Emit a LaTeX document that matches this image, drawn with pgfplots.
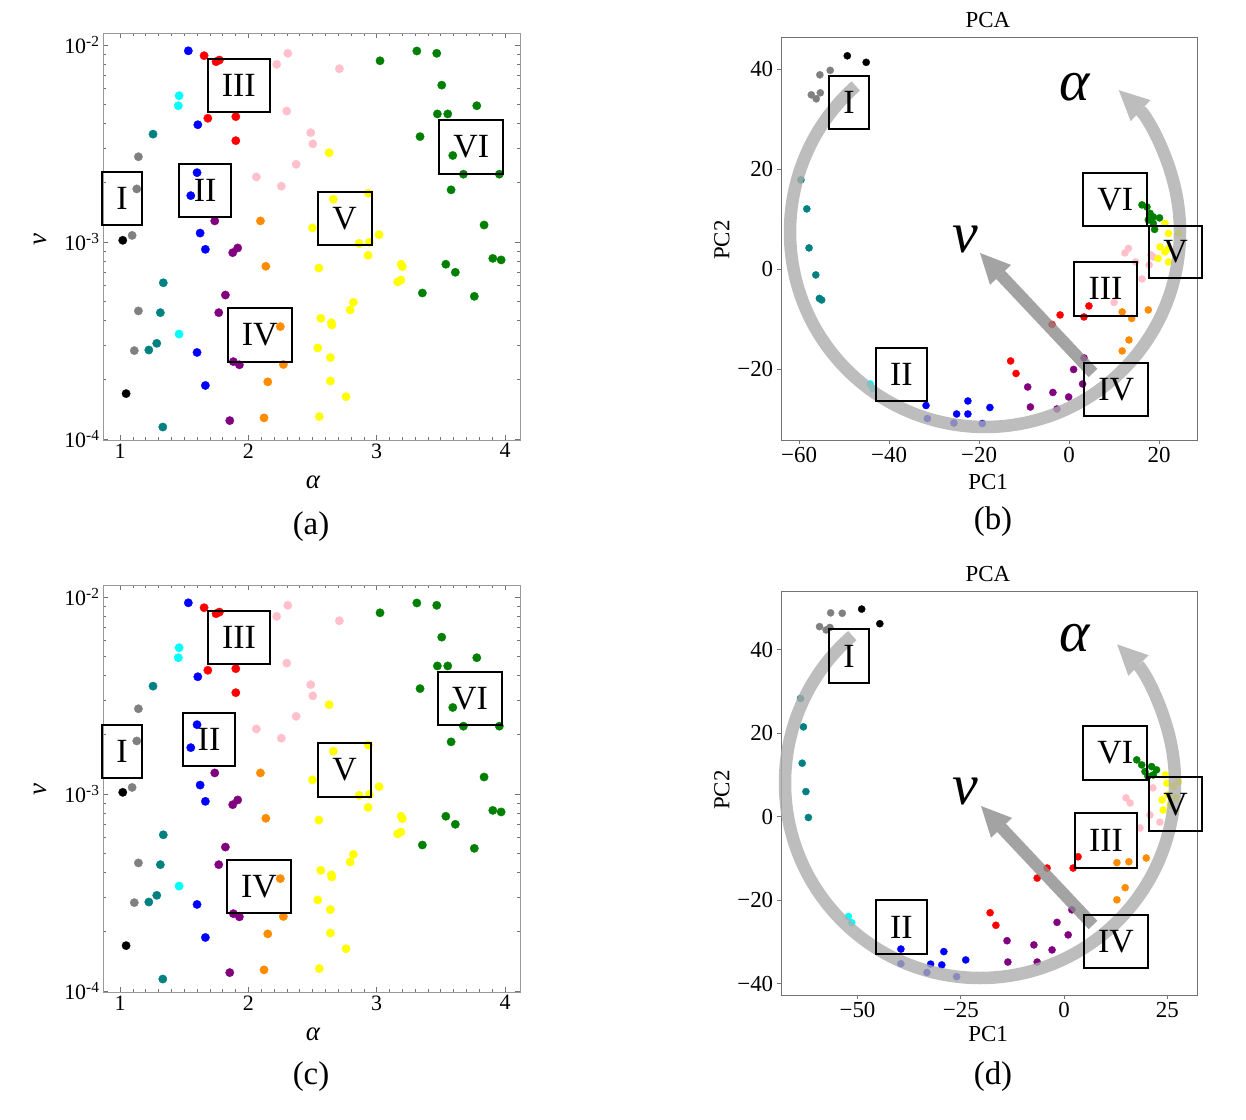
\documentclass[border=0pt]{standalone}
\usepackage{fontspec}
\setmainfont{Liberation Serif}
\usepackage{pgfplots}
\usepackage{pgfplotstable}
\pgfplotsset{compat=1.18}
\usetikzlibrary{arrows.meta}

\definecolor{cteal}{RGB}{0,128,128}
\definecolor{cgray}{RGB}{128,128,128}
\definecolor{cpink}{RGB}{255,192,203}
\definecolor{corange}{RGB}{255,140,0}
\definecolor{cpurple}{RGB}{128,0,128}
\definecolor{cgreen}{RGB}{0,128,0}
\definecolor{cyellow}{RGB}{255,255,0}
\definecolor{ccyan}{RGB}{0,255,255}
\definecolor{cblue}{RGB}{0,0,255}
\definecolor{cred}{RGB}{255,0,0}

% ---------- panels (a) and (c): alpha vs v ----------
\pgfplotstableread{
x y
1.021 1.02e-3
1.047 1.70e-4
}\aBlack
\pgfplotstableread{
x y
1.143 2.71e-3
1.130 1.86e-3
1.094 1.08e-3
1.143 4.47e-4
1.111 2.81e-4
}\aGray
\pgfplotstableread{
x y
1.257 3.53e-3
1.337 6.21e-4
1.314 4.38e-4
1.286 3.06e-4
1.224 2.83e-4
1.333 1.15e-4
}\aTeal
\pgfplotstableread{
x y
1.460 5.53e-3
1.454 4.92e-3
1.460 3.41e-4
}\aCyan
\pgfplotstableread{
x y
1.532 9.35e-3
1.606 3.94e-3
1.600 2.25e-3
1.551 1.72e-3
1.624 1.11e-3
1.665 9.18e-4
1.600 2.75e-4
1.665 1.87e-4
}\aBlue
\pgfplotstableread{
x y
1.655 8.83e-3
1.748 8.23e-3
1.774 8.39e-3
1.684 4.25e-3
1.902 4.33e-3
1.902 3.27e-3
}\aRed
\pgfplotstableread{
x y
2.307 9.08e-3
2.221 7.98e-3
2.709 7.58e-3
2.299 4.62e-3
2.486 3.59e-3
2.502 3.15e-3
2.372 2.48e-3
2.062 2.14e-3
2.257 1.92e-3
}\aPink
\pgfplotstableread{
x y
1.738 1.28e-3
1.878 8.83e-4
1.917 9.33e-4
1.821 5.38e-4
1.769 4.38e-4
1.883 2.47e-4
1.930 2.38e-4
1.855 1.24e-4
}\aPurple
\pgfplotstableread{
x y
2.094 1.28e-3
2.136 7.53e-4
2.249 3.72e-4
2.273 2.39e-4
2.151 1.95e-4
2.122 1.28e-4
}\aOrange
\pgfplotstableread{
x y
2.499 1.18e-3
2.629 2.84e-3
2.935 1.77e-3
2.662 1.65e-3
3.019 1.09e-3
2.863 9.84e-4
2.943 9.96e-4
2.933 8.55e-4
2.549 7.38e-4
3.190 7.71e-4
3.200 7.50e-4
3.164 6.28e-4
3.188 6.41e-4
2.818 4.94e-4
2.793 4.52e-4
2.564 4.10e-4
2.647 3.89e-4
2.650 3.79e-4
2.541 2.90e-4
2.639 2.59e-4
2.639 1.97e-4
2.761 1.64e-4
2.553 1.30e-4
}\aYellow
\pgfplotstableread{
x y
3.026 8.32e-3
3.313 9.33e-3
3.468 9.08e-3
3.507 6.26e-3
3.780 4.92e-3
3.473 4.47e-3
3.554 4.47e-3
3.338 3.43e-3
3.593 2.75e-3
3.676 2.21e-3
3.956 2.21e-3
3.580 1.84e-3
3.837 1.22e-3
3.905 8.26e-4
3.970 8.11e-4
3.539 7.71e-4
3.613 7.02e-4
3.356 5.51e-4
3.761 5.30e-4
}\aGreen

% ---------- panel (b): PCA ----------
\pgfplotstableread{
x y
-49.3 42.7
-45.1 41.4
}\bBlack
\pgfplotstableread{
x y
-53.1 39.8
-55.4 38.9
-57.3 34.9
-55.3 35.3
-56.2 34.1
}\bGray
\pgfplotstableread{
x y
-59.6 17.9
-58.3 12.1
-57.8 4.3
-56.3 -1.1
-55.5 -5.8
-55.0 -6.1
}\bTeal
\pgfplotstableread{
x y
-44.2 -22.9
-43.6 -23.8
}\bCyan
\pgfplotstableread{
x y
-31.8 -27.2
-31.5 -29.8
-25.0 -28.9
-25.6 -30.7
-22.5 -26.3
-22.5 -28.9
-17.6 -27.6
-19.3 -30.8
}\bBlue
\pgfplotstableread{
x y
-13.0 -18.3
-11.8 -20.8
-3.8 -11.0
-2.0 -9.1
3.3 -9.5
4.4 -7.3
}\bRed
\pgfplotstableread{
x y
-9.2 -23.5
-8.6 -27.5
-3.6 -24.6
-2.7 -27.9
-0.1 -25.5
1.0 -20.0
3.0 -22.9
3.3 -17.7
}\bPurple
\pgfplotstableread{
x y
11.8 -8.5
13.9 -9.8
17.6 -8.1
13.3 -14.1
11.8 -16.3
}\bOrange
\pgfplotstableread{
x y
10.0 -6.6
16.2 -1.9
14.8 1.5
13.2 4.2
12.4 3.3
18.2 2.9
17.8 0.9
18.7 2.5
}\bPink
\pgfplotstableread{
x y
16.2 12.9
17.3 12.5
18.0 11.2
18.7 10.5
20.1 10.3
17.6 9.9
18.7 9.2
19.0 8.0
}\bGreen
\pgfplotstableread{
x y
21.3 9.2
22.1 7.2
24.3 7.2
20.2 4.5
22.1 4.2
21.3 3.5
22.1 1.5
19.8 2.2
}\bYellow

% ---------- panel (d): PCA ----------
\pgfplotstableread{
x y
-49.0 49.7
-44.6 46.2
}\dBlack
\pgfplotstableread{
x y
-56.5 48.8
-53.7 48.7
-59.2 45.5
-57.6 44.7
-56.7 45.3
}\dGray
\pgfplotstableread{
x y
-63.8 28.3
-63.1 21.5
-63.4 12.8
-62.5 6.0
-61.9 -0.2
}\dTeal
\pgfplotstableread{
x y
-52.2 -23.9
-51.4 -25.4
}\dCyan
\pgfplotstableread{
x y
-39.5 -31.7
-39.5 -35.2
-33.2 -37.3
-32.3 -35.3
-29.6 -35.5
-29.1 -32.3
-26.0 -38.3
-23.8 -34.3
}\dBlue
\pgfplotstableread{
x y
-17.9 -23.0
-16.5 -26.0
-6.5 -14.7
-4.1 -12.3
2.2 -12.3
3.4 -9.6
}\dRed
\pgfplotstableread{
x y
-13.8 -29.7
-13.6 -34.8
-7.3 -30.7
-6.5 -34.8
-2.9 -31.9
-1.7 -25.3
1.0 -28.3
1.9 -22.3
}\dPurple
\pgfplotstableread{
x y
12.8 -11.0
15.7 -10.8
19.9 -9.9
14.8 -17.0
12.8 -19.9
}\dOrange
\pgfplotstableread{
x y
15.0 4.5
16.0 3.3
18.4 -2.7
21.5 6.9
20.8 0.4
23.2 -1.3
}\dPink
\pgfplotstableread{
x y
17.6 13.6
18.8 12.4
19.6 10.8
21.2 12.0
22.4 11.2
21.6 10.0
20.3 9.7
}\dGreen
\pgfplotstableread{
x y
24.5 10.0
24.9 8.0
27.7 8.4
26.5 7.2
23.7 4.0
25.7 2.8
24.0 1.6
27.1 4.5
25.2 5.2
}\dYellow

\pgfplotsset{
  dot/.style={only marks, mark=*, color=#1, mark options={line width=0.3bp}},
  scat/.style={
    width=417bp, height=407bp, scale only axis, anchor=south west,
    xmin=0.867, xmax=4.117, ymin=9.88e-5, ymax=1.151e-2,
    xtick={1,2,3,4}, xticklabels={1,2,3,4},
    ytick={1e-4,1e-3,1e-2},
    yticklabels={10\textsuperscript{-4},10\textsuperscript{-3},10\textsuperscript{-2}},
    minor x tick num=9,
    axis line style={black!40},
    tick style={black!55, line width=0.7bp},
    major tick length=5bp, minor tick length=3bp,
    tick label style={font=\fontsize{22}{26}\selectfont},
    mark size=4.2bp,
  },
  pca/.style={
    scale only axis, anchor=south west,
    xtick pos=left, ytick pos=left, tick align=outside,
    major tick length=4bp,
    axis line style={black!55},
    tick style={black!55, line width=0.7bp},
    tick label style={font=\fontsize{23}{27}\selectfont},
    mark size=3.6bp,
  },
}

\newcommand{\scatplots}{%
  \addplot[dot=black] table {\aBlack};
  \addplot[dot=cgray] table {\aGray};
  \addplot[dot=cteal] table {\aTeal};
  \addplot[dot=ccyan] table {\aCyan};
  \addplot[dot=cblue] table {\aBlue};
  \addplot[dot=cred] table {\aRed};
  \addplot[dot=cpink] table {\aPink};
  \addplot[dot=cpurple] table {\aPurple};
  \addplot[dot=corange] table {\aOrange};
  \addplot[dot=cyellow] table {\aYellow};
  \addplot[dot=cgreen] table {\aGreen};
}

\tikzset{
  boxlab/.style={font=\fontsize{34}{40}\selectfont, inner sep=0pt},
  bx/.style={line width=2bp, black},
  arcarrow/.style={line width=12.5bp, color=black!32, opacity=0.8, -{Triangle[length=30bp,width=29bp,line width=0pt]}},
  varrow/.style={line width=12bp, color=black!45, opacity=0.8, -{Triangle[length=30bp,width=29bp,line width=0pt]}},
  biglab/.style={font=\fontsize{58}{62}\selectfont\itshape, inner sep=0pt},
  axlab/.style={font=\fontsize{23}{27}\selectfont, inner sep=0pt},
  axlabit/.style={font=\fontsize{27}{31}\selectfont\itshape, inner sep=0pt},
  captxt/.style={font=\fontsize{33}{37}\selectfont, inner sep=0pt},
}

\begin{document}
\begin{tikzpicture}
\begin{scope}[x=1bp,y=-1bp]
\useasboundingbox (0,0) rectangle (1246,1120);
\end{scope}

% (a)
\begin{axis}[ymode=log, scat, at={(103bp,-440bp)}]
\scatplots
\end{axis}
% (c)
\begin{axis}[ymode=log, scat, at={(103bp,-992bp)}]
\scatplots
\end{axis}

% (b)
\begin{axis}[pca, at={(780.7bp,-440bp)}, width=416.6bp, height=402.7bp,
  xmin=-64.1, xmax=28.5, ymin=-34.1, ymax=46.4,
  xtick={-60,-40,-20,0,20}, xticklabels={−60,−40,−20,0,20},
  ytick={-20,0,20,40}, yticklabels={−20,0,20,40}]
  \addplot[dot=black] table {\bBlack};
  \addplot[dot=cgray] table {\bGray};
  \addplot[dot=cteal] table {\bTeal};
  \addplot[dot=ccyan] table {\bCyan};
  \addplot[dot=cblue] table {\bBlue};
  \addplot[dot=cred] table {\bRed};
  \addplot[dot=cpurple] table {\bPurple};
  \addplot[dot=corange] table {\bOrange};
  \addplot[dot=cpink] table {\bPink};
  \addplot[dot=cgreen] table {\bGreen};
  \addplot[dot=cyellow] table {\bYellow};
\end{axis}

% (d)
\begin{axis}[pca, at={(780.7bp,-995bp)}, width=416.3bp, height=404.3bp,
  xmin=-68.6, xmax=32.2, ymin=-42.7, ymax=54.1,
  xtick={-50,-25,0,25}, xticklabels={−50,−25,0,25},
  ytick={-40,-20,0,20,40}, yticklabels={−40,−20,0,20,40}]
  \addplot[dot=black] table {\dBlack};
  \addplot[dot=cgray] table {\dGray};
  \addplot[dot=cteal] table {\dTeal};
  \addplot[dot=ccyan] table {\dCyan};
  \addplot[dot=cblue] table {\dBlue};
  \addplot[dot=cred] table {\dRed};
  \addplot[dot=cpurple] table {\dPurple};
  \addplot[dot=corange] table {\dOrange};
  \addplot[dot=cpink] table {\dPink};
  \addplot[dot=cgreen] table {\dGreen};
  \addplot[dot=cyellow] table {\dYellow};
\end{axis}

\begin{scope}[x=1bp,y=-1bp]
% ---- (a) annotations
\draw[bx] (101.7,171.7) rectangle (142.3,225);  \node[boxlab] at (122,198.4) {I};
\draw[bx] (179.3,163.7) rectangle (231,217.3);  \node[boxlab] at (205.2,190.5) {II};
\draw[bx] (207.7,58.7) rectangle (269.7,112.3); \node[boxlab] at (238.7,85.5) {III};
\draw[bx] (227.7,308.3) rectangle (291.7,361.7);\node[boxlab] at (259.7,335) {IV};
\draw[bx] (317.7,192.3) rectangle (371.7,245);  \node[boxlab] at (344.7,218.7) {V};
\draw[bx] (439,120) rectangle (503.3,174);      \node[boxlab] at (471.2,147) {VI};
\node[axlabit] at (313,482) {α};
\node[axlabit,rotate=90] at (40,240) {v};
\node[captxt] at (311,527) {(a)};

% ---- (c) annotations
\draw[bx] (102,725) rectangle (142,778);        \node[boxlab] at (122,751.5) {I};
\draw[bx] (183,713) rectangle (235,766);        \node[boxlab] at (209,739.5) {II};
\draw[bx] (208,611) rectangle (270,664);        \node[boxlab] at (239,637.5) {III};
\draw[bx] (227,860) rectangle (291,913);        \node[boxlab] at (259,886.5) {IV};
\draw[bx] (318,743) rectangle (371,797);        \node[boxlab] at (344.5,770) {V};
\draw[bx] (438,672) rectangle (502,725);        \node[boxlab] at (470,698.5) {VI};
\node[axlabit] at (313,1034) {α};
\node[axlabit,rotate=90] at (40,790) {v};
\node[captxt] at (311,1077) {(c)};

% ---- (b) annotations
\draw[arcarrow] (985,232) ++(-131.5:195) arc[start angle=-131.5, end angle=-406.7, radius=195];
\draw[varrow] (1093,373) -- (980,253);
\draw[bx] (828.7,75.7) rectangle (869.3,129.3);    \node[boxlab] at (849,102.5) {I};
\draw[bx] (1083.3,172.7) rectangle (1147.3,226);   \node[boxlab] at (1115.3,199.4) {VI};
\draw[bx] (1149,225.7) rectangle (1202,278.3);     \node[boxlab] at (1175.5,252) {V};
\draw[bx] (1074.3,261.7) rectangle (1136.7,315.7); \node[boxlab] at (1105.5,288.7) {III};
\draw[bx] (876,347.7) rectangle (926.7,401.3);     \node[boxlab] at (901.3,374.5) {II};
\draw[bx] (1084,362.7) rectangle (1148.3,416);     \node[boxlab] at (1116.2,389.4) {IV};
\node[biglab] at (1075,87) {α};
\node[biglab] at (965,240) {v};
\node[axlab] at (988,20) {PCA};
\node[axlab] at (988,482) {PC1};
\node[axlab,rotate=90] at (722,240) {PC2};
\node[captxt] at (993,522) {(b)};

% ---- (d) annotations
\draw[arcarrow] (980,783) ++(-130.9:195) arc[start angle=-130.9, end angle=-405.3, radius=195];
\draw[varrow] (1093,925) -- (981,806);
\draw[bx] (828.7,629.3) rectangle (869.3,682.7);   \node[boxlab] at (849,656) {I};
\draw[bx] (1083.3,725.7) rectangle (1147.3,780);   \node[boxlab] at (1115.3,752.9) {VI};
\draw[bx] (1149.3,777.3) rectangle (1202,831);     \node[boxlab] at (1175.6,804.2) {V};
\draw[bx] (1075,813) rectangle (1137,868);         \node[boxlab] at (1106,840.5) {III};
\draw[bx] (876,900) rectangle (926.7,954);         \node[boxlab] at (901.3,927) {II};
\draw[bx] (1084,915) rectangle (1148,968);         \node[boxlab] at (1116,941.5) {IV};
\node[biglab] at (1075,638) {α};
\node[biglab] at (965,792) {v};
\node[axlab] at (988,574) {PCA};
\node[axlab] at (988,1034) {PC1};
\node[axlab,rotate=90] at (722,790) {PC2};
\node[captxt] at (993,1077) {(d)};
\end{scope}
\end{tikzpicture}
\end{document}
